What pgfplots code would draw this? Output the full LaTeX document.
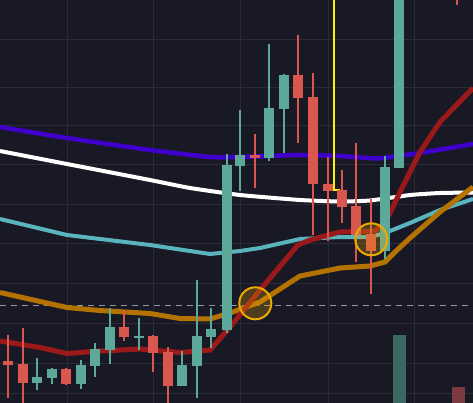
\documentclass[border=0pt]{standalone}
\usepackage{pgfplots}
\pgfplotsset{compat=1.18}
\definecolor{bg}{RGB}{25,25,38}
\definecolor{gridc}{RGB}{42,42,56}
\definecolor{cgreen}{RGB}{92,168,153}
\definecolor{cred}{RGB}{217,87,79}
\definecolor{cpurple}{RGB}{64,0,204}
\definecolor{ccyan}{RGB}{90,180,190}
\definecolor{corange}{RGB}{180,115,0}
\definecolor{cdred}{RGB}{155,25,25}
\definecolor{vgreen}{RGB}{60,104,98}
\definecolor{vred}{RGB}{122,58,64}
\definecolor{cyel}{RGB}{235,170,0}
\definecolor{dashc}{RGB}{150,150,160}
% candle bodies: x, centre, half height
\pgfplotstableread{
x y e
37 380 3
52 373.5 4.5
81 374.5 9.5
95 357.5 8.5
110 338.5 11.5
139 336.5 0.7
182 375.5 10.5
197 351 15
211 333 4
227 247.5 82.5
240 160.5 5.5
269 133 25
284 92 17
385 209 42
399 60 108
}\greenbody
\pgfplotstableread{
x y e
37 374 16
52 376 8
81 374.5 14.5
95 360 17
110 336 28
139 334 16
182 368.5 17.5
197 339 59
211 328 20
227 243.5 89.5
240 150.5 40.5
269 102.5 58.5
284 113.5 39.5
385 207.5 51.5
399 60 108
}\greenwick
\pgfplotstableread{
x y e
8 363 2
23 373.5 9.5
66 376.5 7.5
124 332 5
153 344.5 8.5
168 369 17
255 156.5 1.5
298 86.5 11.5
313 140.5 43.5
328 187.5 3.5
342 198.5 8.5
356 220.5 14.5
371 242.5 8.5
457 -40 20
}\redbody
\pgfplotstableread{
x y e
8 366.5 31.5
23 367 39
66 376.5 8.5
124 325.5 15.5
153 353.5 18.5
168 377 30
255 161 27
298 89 54
313 154 81
328 199 42
342 196.5 26.5
356 202.5 59.5
371 246.5 47.5
457 -10 15
}\redwick
\begin{document}
\begin{tikzpicture}
\begin{axis}[
  width=473pt, height=403pt, scale only axis,
  xmin=0, xmax=473, ymin=0, ymax=403, y dir=reverse,
  axis background/.style={fill=bg},
  axis line style={draw=none},
  tick style={draw=none},
  xtick={67,153,240,328,414},
  ytick={40,88,126,165,204,243,283,323,363,393},
  xticklabels={}, yticklabels={},
  grid=major, grid style={draw=gridc, line width=1pt},
]
% dashed level
\addplot[dashc, line width=1pt, dash pattern=on 6pt off 5pt, forget plot] coordinates {(0,305) (473,305)};
% volume
\addplot[draw=none, mark=none, forget plot, error bars/.cd, y dir=both, y explicit, error mark=none,
  error bar style={draw=vgreen, line width=13pt}] coordinates {(399.5,372.5) +- (0,37.5)};
\addplot[draw=none, mark=none, forget plot, error bars/.cd, y dir=both, y explicit, error mark=none,
  error bar style={draw=vred, line width=13pt}] coordinates {(458,398.5) +- (0,11.5)};
% moving averages
\addplot[cpurple, line width=4.5pt, smooth, tension=0.3] coordinates {(0,127) (67,138) (150,150) (210,157) (240,157) (300,155) (340,156) (375,158.5) (390,157) (420,153) (473,144)};
\addplot[white, line width=4pt, smooth, tension=0.3] coordinates {(0,151) (67,164) (150,180) (190,188) (240,195) (300,200) (340,201.5) (370,200.5) (410,195) (440,193) (473,192.5)};
\addplot[ccyan, line width=4pt] coordinates {(0,219) (67,235) (150,245) (210,254) (240,251) (260,248) (300,239) (340,237) (370,237) (385,233) (410,223) (440,210) (473,199)};
\addplot[corange, line width=5pt] coordinates {(0,292.5) (67,307.5) (100,310.5) (150,313.5) (180,318.5) (210,319) (230,313) (260,302) (300,276) (340,268) (370,266) (385,262) (395,252) (410,238) (440,212) (473,187)};
\addplot[cdred, line width=5pt] coordinates {(0,341) (40,347.5) (67,353.5) (100,351) (140,349) (180,352.5) (210,350) (230,327) (260,290) (298,245) (310,240) (340,232) (375,231) (385,222) (390,213) (400,192) (420,152) (440,122) (473,88)};
% yellow marker line
\addplot[yellow, line width=2pt] coordinates {(334,-5) (334,190) (340,190)};
% circles
\addplot[only marks, mark=*, mark size=16pt, mark options={draw=cyel, line width=2pt, fill=cyel, fill opacity=0.25}] coordinates {(255.3,303.3) (371.3,239.3)};
% candles
\addplot[draw=none, mark=none, forget plot, error bars/.cd, y dir=both, y explicit, error mark=none,
  error bar style={draw=cgreen, line width=1.2pt}] table[x=x, y=y, y error=e] {\greenwick};
\addplot[draw=none, mark=none, forget plot, error bars/.cd, y dir=both, y explicit, error mark=none,
  error bar style={draw=cred, line width=1.2pt}] table[x=x, y=y, y error=e] {\redwick};
\addplot[draw=none, mark=none, forget plot, error bars/.cd, y dir=both, y explicit, error mark=none,
  error bar style={draw=cgreen, line width=10.5pt}] table[x=x, y=y, y error=e] {\greenbody};
\addplot[draw=none, mark=none, forget plot, error bars/.cd, y dir=both, y explicit, error mark=none,
  error bar style={draw=cred, line width=10.5pt}] table[x=x, y=y, y error=e] {\redbody};
\end{axis}
\pgfresetboundingbox
\path (current axis.south west) rectangle (current axis.north east);
\end{tikzpicture}
\end{document}
